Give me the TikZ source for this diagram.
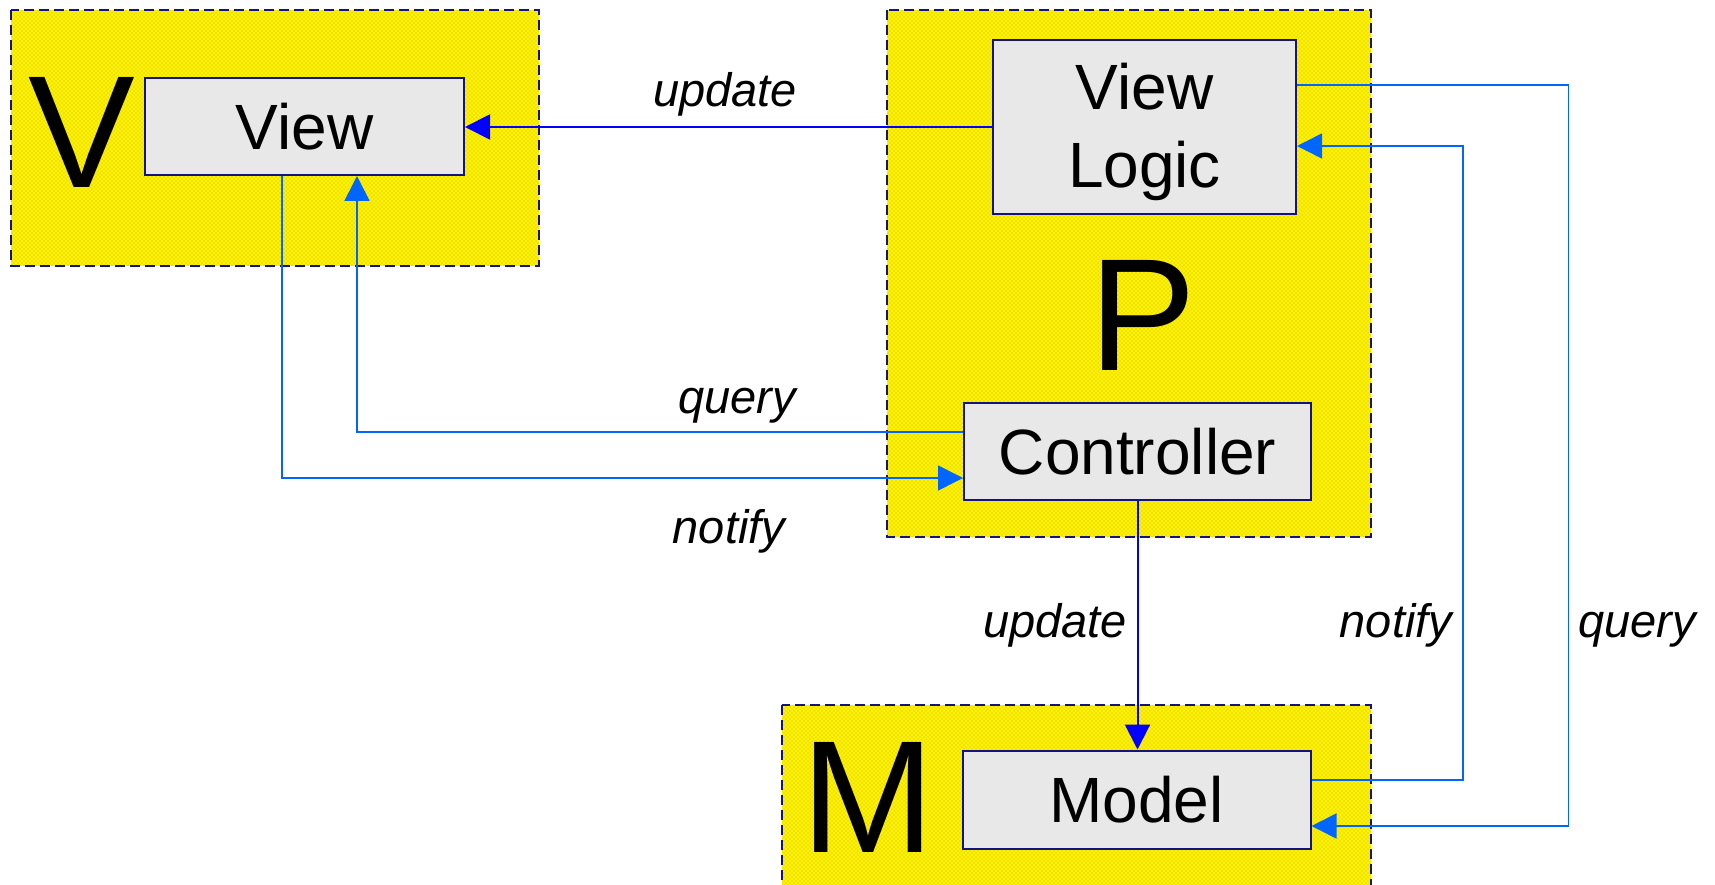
\documentclass[tikz,border=0pt]{standalone}
\usepackage{fontspec}
\setmainfont{Liberation Sans}
\usepackage{tikz}
\usetikzlibrary{positioning, arrows.meta, patterns}
\definecolor{navy}{RGB}{20,20,128}
\definecolor{boxgray}{RGB}{232,232,232}
\definecolor{lightlink}{RGB}{0,102,255}
\definecolor{darklink}{RGB}{0,0,255}
\pgfdeclarepatternformonly{screendots}{\pgfqpoint{-1pt}{-1pt}}{\pgfqpoint{5pt}{5pt}}{\pgfqpoint{4pt}{4pt}}
{
    \pgfpathcircle{\pgfqpoint{0pt}{0pt}}{.45pt}
    \pgfpathcircle{\pgfqpoint{2pt}{2pt}}{.45pt}
    \pgfusepath{fill}
}
\newcommand\boxfont{\fontsize{64}{78}\selectfont}
\newcommand\labelfont{\fontsize{47}{52}\selectfont\itshape}
\newcommand\letterfont{\fontsize{160}{160}\selectfont}
\tikzset {
    x=1pt, y=-1pt,
    >={Triangle[length=25pt, width=25pt]},
    group/.style={draw=navy, line width=2.5pt, dash pattern=on 10pt off 5pt,
        preaction={fill=yellow}, pattern=screendots, pattern color=black!75},
    box/.style={draw=navy, line width=2pt, fill=boxgray, font=\boxfont,
        align=center, inner sep=0pt},
    letter/.style={font=\letterfont, inner sep=0pt},
    link/.style={->, draw=lightlink, line width=1.6pt},
    darklink/.style={->, draw=darklink, line width=2pt},
    tag/.style={font=\labelfont, anchor=base, inner sep=0pt}
}
\begin{document}
\begin{tikzpicture}
    \useasboundingbox (0,0) rectangle (1715,885);

    % groups
    \draw[group] (11,10) rectangle (539,266);
    \draw[group] (887,10) rectangle (1371,537);
    \draw[group] (782,705) rectangle (1371,900);

    \node[letter] (V) at (82,132) {V};
    \node[letter] (P) at (1143,315) {P};
    \node[letter] (M) at (868,797) {M};

    % components
    \node[box, minimum width=319pt, minimum height=97pt] (view) at (304.5,126.5) {View};
    \node[box, minimum width=303pt, minimum height=174pt, text height=135pt] (vlogic) at (1144.5,127) {View\\Logic};
    \node[box, minimum width=347pt, minimum height=97pt] (ctrl) at (1137.5,451.5) {Controller};
    \node[box, minimum width=348pt, minimum height=98pt] (model) at (1136.5,799.5) {Model};

    % connectors
    \draw[darklink] (vlogic.west) -- (vlogic.west -| view.east);
    \draw[link] ([yshift=19.5pt]ctrl.west) -| ([xshift=52.5pt]view.south);
    \draw[link] ([xshift=-22.5pt]view.south) |- ([yshift=-26.5pt]ctrl.west);
    \draw[darklink] (ctrl.south) -- (ctrl.south |- model.north);
    \draw[link] ([yshift=19.5pt]model.east) -- ++(151.5,0) |- ([yshift=-19pt]vlogic.east);
    \draw[link] ([yshift=42pt]vlogic.east) -- ++(271.5,0) |- ([yshift=-26.5pt]model.east);

    % labels
    \node[tag] (updtop) at (725,107) {update};
    \node[tag] (qrytop) at (737,413) {query};
    \node[tag] (ntftop) at (729,543) {notify};
    \node[tag] (updbot) at (1055,637) {update};
    \node[tag] (ntfbot) at (1396,637) {notify};
    \node[tag] (qrybot) at (1637,637) {query};
\end{tikzpicture}
\end{document}
